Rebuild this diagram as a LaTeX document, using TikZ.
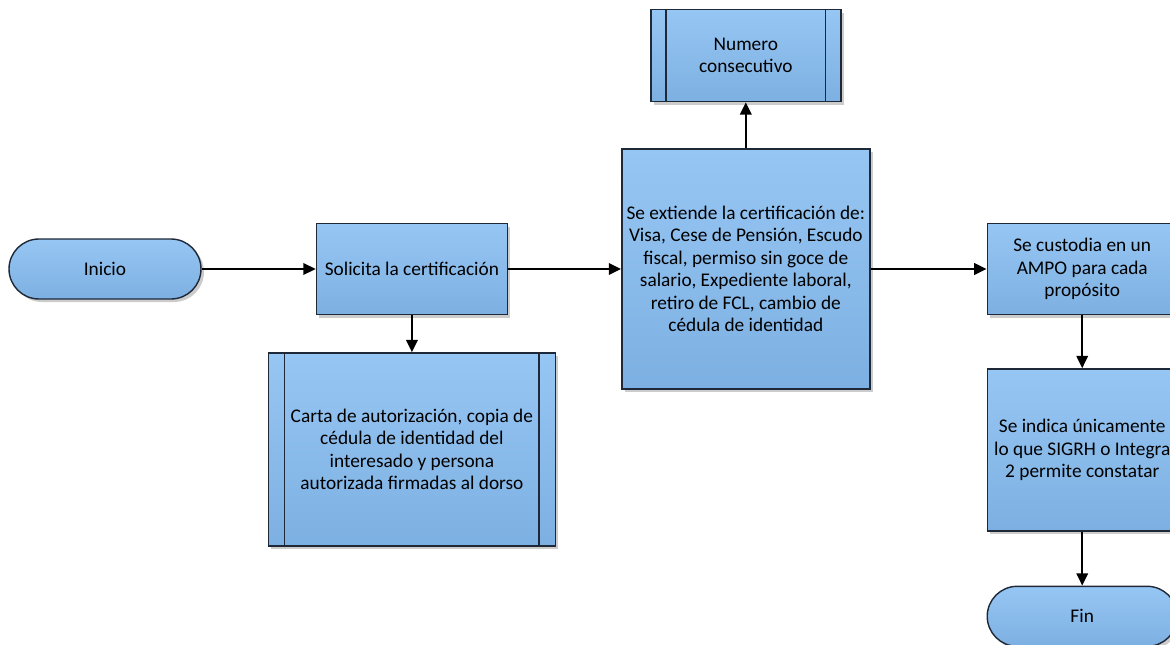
\documentclass[tikz,border=0pt]{standalone}
\usepackage{fontspec}
\setmainfont{Carlito}
\usetikzlibrary{arrows.meta,positioning,shadows}
\definecolor{boxtop}{RGB}{150,198,243}
\definecolor{boxbot}{RGB}{125,176,226}
\definecolor{boxline}{RGB}{30,40,55}
\tikzset{block/.style    = {rectangle, draw=boxline, line width=0.8pt, top color=boxtop, bottom color=boxbot,
		align=center, font=\fontsize{11}{12.8}\selectfont, inner sep=2pt,
		drop shadow={shadow xshift=0.06cm, shadow yshift=-0.06cm, fill=black!25, opacity=0.8}},
	terminal/.style = {block, rounded corners=0.6cm, minimum width=3.84cm, minimum height=1.2cm},
	preproc/.style  = {block},
	line/.style     = {draw, line width=1.2pt, -{Triangle[length=7pt,width=6.5pt]}}
}

\begin{document}
\begin{tikzpicture}[node distance = 2cm, auto]
		\useasboundingbox (0,0) rectangle (23.4,-12.9);
		\node [terminal] (inicio) at (2.1,-5.38) {Inicio};
		\node [block, right=2.28cm of inicio, minimum width=3.82cm, minimum height=1.82cm] (sol) {Solicita la certificación};
		\node [preproc, below=0.74cm of sol, minimum width=5.74cm, minimum height=3.86cm] (carta) {Carta de autorización, copia de\\cédula de identidad del\\interesado y persona\\autorizada firmadas al dorso};
		\node [block, right=2.26cm of sol, minimum width=4.96cm, minimum height=4.8cm] (ext) {Se extiende la certificación de:\\Visa, Cese de Pensión, Escudo\\fiscal, permiso sin goce de\\salario, Expediente laboral,\\retiro de FCL, cambio de\\cédula de identidad};
		\node [preproc, above=0.92cm of ext, minimum width=3.8cm, minimum height=1.84cm] (num) {Numero\\consecutivo};
		\node [block, right=2.32cm of ext, minimum width=3.8cm, minimum height=1.82cm] (cust) {Se custodia en un\\AMPO para cada\\propósito};
		\node [block, below=1.06cm of cust, minimum width=3.8cm, minimum height=3.24cm] (ind) {Se indica únicamente\\lo que SIGRH o Integra\\2 permite constatar};
		\node [terminal, below=1.08cm of ind, minimum width=3.8cm] (fin) {Fin};
		% bars of the predefined process boxes
		\draw[boxline, line width=0.8pt] ([xshift=0.34cm]carta.north west) -- ([xshift=0.34cm]carta.south west);
		\draw[boxline, line width=0.8pt] ([xshift=-0.34cm]carta.north east) -- ([xshift=-0.34cm]carta.south east);
		\draw[boxline, line width=0.8pt] ([xshift=0.32cm]num.north west) -- ([xshift=0.32cm]num.south west);
		\draw[boxline, line width=0.8pt] ([xshift=-0.32cm]num.north east) -- ([xshift=-0.32cm]num.south east);
		\path[line] (inicio) -- (sol);
		\path[line] (sol) -- (carta);
		\path[line] (sol) -- (ext);
		\path[line] (ext) -- (num);
		\path[line] (ext) -- (cust);
		\path[line] (cust) -- (ind);
		\path[line] (ind) -- (fin);
	\end{tikzpicture}
\end{document}
